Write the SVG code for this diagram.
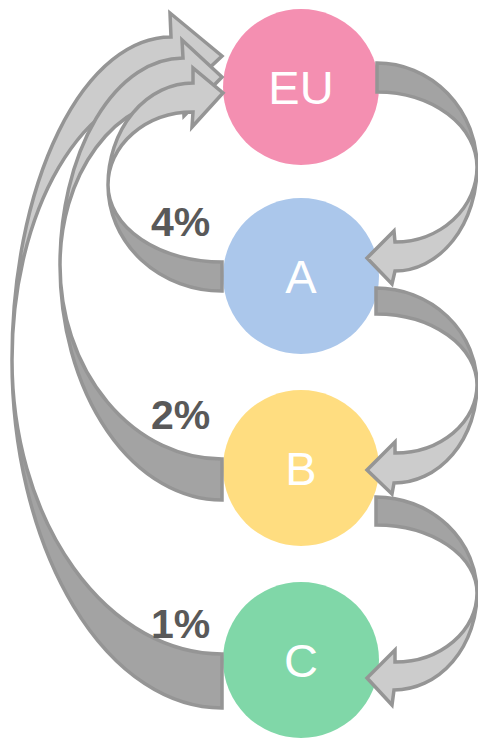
<svg xmlns="http://www.w3.org/2000/svg" width="478" height="741" viewBox="0 0 478 741">
<style>
.dk{fill:#a3a3a3;stroke:none}
.lt{fill:#cccccc;stroke:none}
.ol{fill:none;stroke:#959595;stroke-width:3.5;stroke-linejoin:miter}
.nl{font-family:"Liberation Sans",Arial,sans-serif;font-size:47px;fill:#ffffff;text-anchor:middle}
.pc{font-family:"Liberation Sans",Arial,sans-serif;font-size:41px;font-weight:bold;fill:#595959}
</style>
<rect width="478" height="741" fill="#ffffff"/>
<g id="nodes">
<g id="EU"><circle cx="301" cy="87" r="78" fill="#f48fb1"/><text class="nl" x="301" y="104">EU</text></g>
<g id="A"><circle cx="301" cy="276" r="78" fill="#abc7eb"/><text class="nl" x="301" y="293">A</text></g>
<g id="B"><circle cx="301" cy="468" r="78" fill="#ffdd80"/><text class="nl" x="301" y="485">B</text></g>
<g id="C"><circle cx="301" cy="660" r="78" fill="#80d7a8"/><text class="nl" x="301" y="677">C</text></g>
</g>
<g id="connectors">
<g id="C-EU">
<path class="dk" d="M222,654 A210,294 0 0 1 12,360 A210,348 0 0 0 222,708 Z"/>
<path class="lt" d="M12,360 A159,323 0 0 1 171,37 L170,13 L222,56 L173,102 L171,88 A159,272 0 0 0 12,360 Z"/>
<path class="ol" d="M222,654 A210,294 0 0 1 12,360 A159,272 0 0 1 171,88 L173,102 L222,56 L170,13 L171,37 A159,323 0 0 0 12,360 A210,348 0 0 0 222,708 Z"/>
</g>
<g id="B-EU">
<path class="dk" d="M222,459 A162,194 0 0 1 60,265 A162,235 0 0 0 222,500 Z"/>
<path class="lt" d="M60,265 A123,207 0 0 1 183,58 L182,40 L222,77 L184,116 L183,99 A123,166 0 0 0 60,265 Z"/>
<path class="ol" d="M222,459 A162,194 0 0 1 60,265 A123,166 0 0 1 183,99 L184,116 L222,77 L182,40 L183,58 A123,207 0 0 0 60,265 A162,235 0 0 0 222,500 Z"/>
</g>
<g id="A-EU">
<path class="dk" d="M222,262 A114,77 0 0 1 108,185 A114,106 0 0 0 222,291 Z"/>
<path class="lt" d="M108,185 A85,102 0 0 1 193,83 L193,68 L223,93 L192,127 L193,112 A85,73 0 0 0 108,185 Z"/>
<path class="ol" d="M222,262 A114,77 0 0 1 108,185 A85,73 0 0 1 193,112 L192,127 L223,93 L193,68 L193,83 A85,102 0 0 0 108,185 A114,106 0 0 0 222,291 Z"/>
</g>
<g id="EU-A">
<path class="dk" d="M377,63 A100,104 0 0 1 477,167 A100,75 0 0 0 377,92 Z"/>
<path class="lt" d="M477,167 A82,104 0 0 1 395,271 L392,284 L367,258 L394,231 L395,242 A82,75 0 0 0 477,167 Z"/>
<path class="ol" d="M377,63 A100,104 0 0 1 477,167 A82,104 0 0 1 395,271 L392,284 L367,258 L394,231 L395,242 A82,75 0 0 0 477,167 A100,75 0 0 0 377,92 Z"/>
</g>
<g id="A-B">
<path class="dk" d="M376,288 A101,97 0 0 1 477,385 A101,71 0 0 0 376,314 Z"/>
<path class="lt" d="M477,385 A83,98 0 0 1 394,483 L392,494 L367,470 L395,442 L395,453 A82,68 0 0 0 477,385 Z"/>
<path class="ol" d="M376,288 A101,97 0 0 1 477,385 A83,98 0 0 1 394,483 L392,494 L367,470 L395,442 L395,453 A82,68 0 0 0 477,385 A101,71 0 0 0 376,314 Z"/>
</g>
<g id="B-C">
<path class="dk" d="M376,497 A101,96 0 0 1 477,593 A101,68 0 0 0 376,525 Z"/>
<path class="lt" d="M477,593 A83,97 0 0 1 394,690 L392,705 L367,678 L395,650 L395,662 A82,69 0 0 0 477,593 Z"/>
<path class="ol" d="M376,497 A101,96 0 0 1 477,593 A83,97 0 0 1 394,690 L392,705 L367,678 L395,650 L395,662 A82,69 0 0 0 477,593 A101,68 0 0 0 376,525 Z"/>
</g>
</g>
<g id="labels">
<text class="pc" x="151" y="236">4%</text>
<text class="pc" x="151" y="429">2%</text>
<text class="pc" x="151" y="638">1%</text>
</g>
</svg>
